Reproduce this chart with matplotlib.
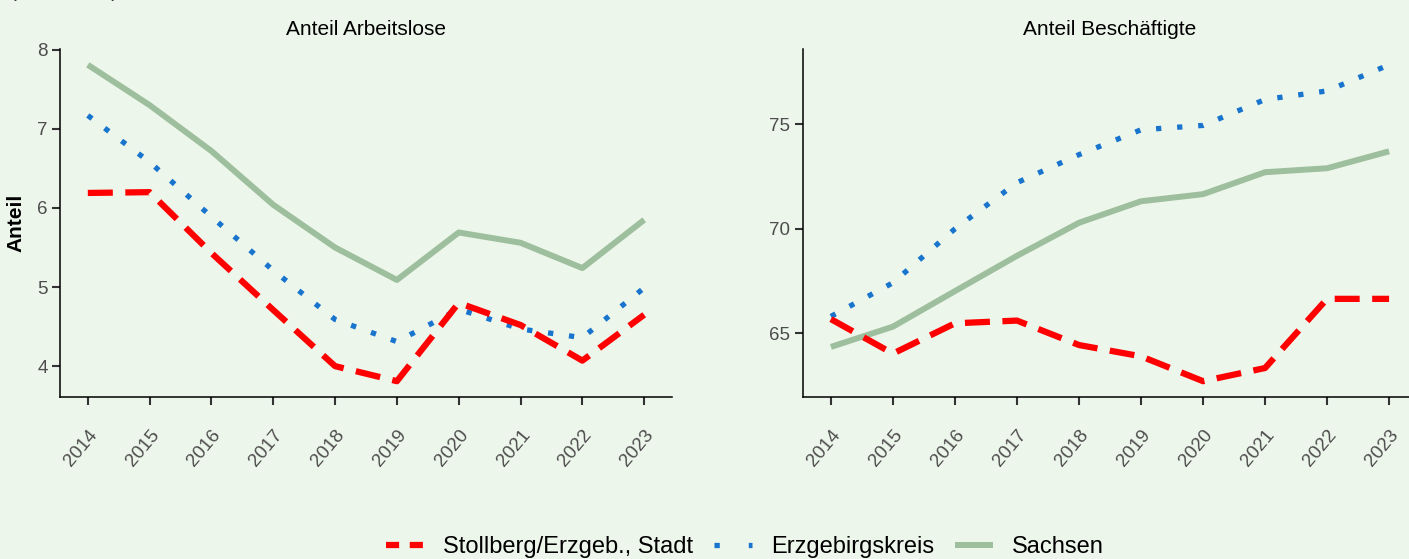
import matplotlib
matplotlib.use("Agg")
import matplotlib.pyplot as plt
from matplotlib.lines import Line2D

years = [2014, 2015, 2016, 2017, 2018, 2019, 2020, 2021, 2022, 2023]

# Anteil Arbeitslose
alo_stollberg = [6.19, 6.20, 5.43, 4.71, 4.00, 3.81, 4.80, 4.52, 4.07, 4.65]
alo_erzkreis = [7.17, 6.58, 5.89, 5.21, 4.59, 4.31, 4.72, 4.47, 4.36, 4.99]
alo_sachsen = [7.81, 7.30, 6.72, 6.04, 5.50, 5.09, 5.69, 5.56, 5.24, 5.85]

# Anteil Beschäftigte
bes_stollberg = [65.68, 64.03, 65.48, 65.61, 64.44, 63.90, 62.71, 63.34, 66.65, 66.65]
bes_erzkreis = [65.81, 67.42, 70.00, 72.21, 73.55, 74.74, 74.95, 76.19, 76.60, 77.85]
bes_sachsen = [64.35, 65.32, 67.02, 68.71, 70.29, 71.32, 71.66, 72.71, 72.90, 73.71]

series_names = ["Stollberg/Erzgeb., Stadt", "Erzgebirgskreis", "Sachsen"]
panel_titles = ["Anteil Arbeitslose", "Anteil Beschäftigte"]

BG = "#edf6eb"
COLORS = ["#ff0000", "#1874cd", "#9dbf9d"]

plt.rcParams["font.family"] = ["Liberation Sans", "DejaVu Sans"]

W, H = 1409, 559
fig = plt.figure(figsize=(W / 100, H / 100), dpi=100, facecolor=BG)


def px_axes(x0, y0, x1, y1):
  return fig.add_axes([x0 / W, 1 - y1 / H, (x1 - x0) / W, (y1 - y0) / H])


ax1 = px_axes(60, 49, 672, 397)
ax2 = px_axes(803, 49, 1417, 397)

panels = [
  (ax1, [alo_stollberg, alo_erzkreis, alo_sachsen], [4, 5, 6, 7, 8]),
  (ax2, [bes_stollberg, bes_erzkreis, bes_sachsen], [65, 70, 75]),
]

for k, (ax, data, yt) in enumerate(panels):
  ax.set_facecolor(BG)
  # Sachsen zuerst (unten), dann Kreis, dann Stadt
  ax.plot(years, data[2], color=COLORS[2], lw=4.3, solid_capstyle="butt", zorder=2)
  ax.plot(years, data[1], color=COLORS[1], lw=3.8, dashes=(1, 3.0),
          dash_capstyle="butt", zorder=3)
  ax.plot(years, data[0], color=COLORS[0], lw=4.5, dashes=(4, 2),
          dash_capstyle="butt", zorder=4)

  lo = min(min(d) for d in data)
  hi = max(max(d) for d in data)
  pad = (hi - lo) * 0.05
  ax.set_ylim(lo - pad, hi + pad)
  ax.set_xlim(2014 - 0.45, 2023 + 0.45)
  ax.set_yticks(yt)
  ax.set_xticks(years)
  ax.set_xticklabels([str(y) for y in years], rotation=50, ha="right",
                     va="top", rotation_mode="anchor")
  ax.tick_params(axis="both", colors="#333333", labelcolor="#4d4d4d",
                 labelsize=13.5, length=6, width=1.5)
  ax.tick_params(axis="x", pad=15)
  ax.tick_params(axis="y", pad=3)
  for s in ["top", "right"]:
    ax.spines[s].set_visible(False)
  for s in ["left", "bottom"]:
    ax.spines[s].set_linewidth(1.1)
    ax.spines[s].set_color("black")
  ax.set_title(panel_titles[k], fontsize=15, pad=10)

ax1.set_ylabel("Anteil", fontsize=15, fontweight="bold", labelpad=8)

fig.text(0.007, 1 + 3 / H, "(in Prozent)", fontsize=15, color="#333333",
         va="baseline", ha="left")

handles = [
  Line2D([], [], color=COLORS[0], lw=4.5, dashes=(2.1, 1.7), dash_capstyle="butt"),
  Line2D([], [], color=COLORS[1], lw=3.8, dashes=(1, 5.5), dash_capstyle="butt"),
  Line2D([], [], color=COLORS[2], lw=4.3, solid_capstyle="butt"),
]
fig.legend(handles, series_names, loc="center", bbox_to_anchor=(745 / W, 1 - 547 / H),
           ncol=3, frameon=False, fontsize=17, handlelength=1.6,
           columnspacing=0.9, handletextpad=0.8)

fig.savefig("out.png", dpi=100, facecolor=BG)
